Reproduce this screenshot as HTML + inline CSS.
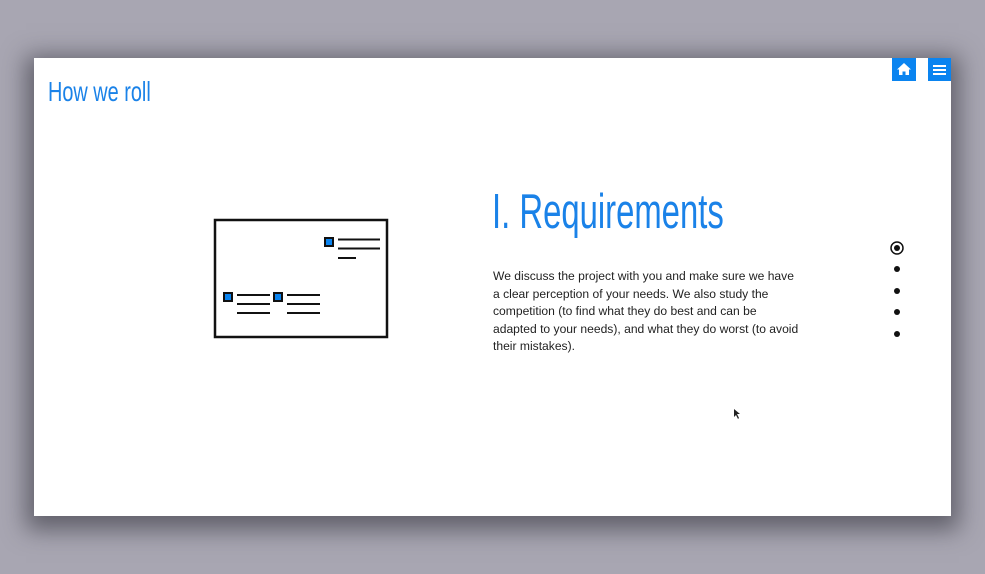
<!DOCTYPE html>
<html><head><style>
body{margin:0;width:985px;height:574px;background:#a8a6b2;position:relative;overflow:hidden;font-family:"Liberation Sans",sans-serif}
.card{position:absolute;left:34px;top:58px;width:917px;height:458px;background:#fff;box-shadow:0 6px 22px 8px rgba(40,40,50,.55)}
.t{position:absolute;color:#1a82e8;white-space:nowrap;transform-origin:0 0}
.btn{position:absolute;top:58px;width:24px;height:23px;background:#0a84f0}
.dot{position:absolute;left:894px;width:6px;height:6px;border-radius:50%;background:#111}
p{position:absolute;left:493px;top:268px;margin:0;font-size:12.1px;line-height:17.5px;color:#222;width:310px}
</style></head><body>
<div class="card"></div>
<div class="t" style="left:48px;top:76px;font-size:28px;transform:scaleX(.71)">How we roll</div>
<div class="t" style="left:492px;top:184px;font-size:49px;transform:scaleX(.67)">I. Requirements</div>
<div class="btn" style="left:892px"><svg width="24" height="23"><path d="M12 5 L19 11.5 H17 V17 H13.5 V13.5 H10.5 V17 H7 V11.5 H5 Z" fill="#fff"/></svg></div>
<div class="btn" style="left:928px;width:23px"><svg width="23" height="23"><g stroke="#fff" stroke-width="2"><line x1="5" y1="8" x2="18" y2="8"/><line x1="5" y1="12" x2="18" y2="12"/><line x1="5" y1="16" x2="18" y2="16"/></g></svg></div>
<svg style="position:absolute;left:0;top:0" width="985" height="574">
<rect x="215" y="220" width="172" height="117" fill="none" stroke="#111" stroke-width="2.5"/>
<g stroke="#111" stroke-width="2">
<rect x="325" y="238" width="8" height="8" fill="#0a84f0"/>
<line x1="338" y1="239.5" x2="380" y2="239.5"/><line x1="338" y1="248.5" x2="380" y2="248.5"/><line x1="338" y1="258" x2="356" y2="258"/>
<rect x="224" y="293" width="8" height="8" fill="#0a84f0"/>
<line x1="237" y1="295" x2="270" y2="295"/><line x1="237" y1="304" x2="270" y2="304"/><line x1="237" y1="313" x2="270" y2="313"/>
<rect x="274" y="293" width="8" height="8" fill="#0a84f0"/>
<line x1="287" y1="295" x2="320" y2="295"/><line x1="287" y1="304" x2="320" y2="304"/><line x1="287" y1="313" x2="320" y2="313"/>
</g>
<circle cx="897" cy="248" r="6" fill="none" stroke="#111" stroke-width="1.5"/><circle cx="897" cy="248" r="3" fill="#111"/>
<path d="M734 409 V417 L736 415 L738 419 L739 418 L737 414 H740 Z" fill="#222"/>
</svg>
<div class="dot" style="top:266px"></div><div class="dot" style="top:288px"></div><div class="dot" style="top:309px"></div><div class="dot" style="top:331px"></div>
<p>We discuss the project with you and make sure we have a clear perception of your needs. We also study the competition (to find what they do best and can be adapted to your needs), and what they do worst (to avoid their mistakes).</p>
</body></html>
